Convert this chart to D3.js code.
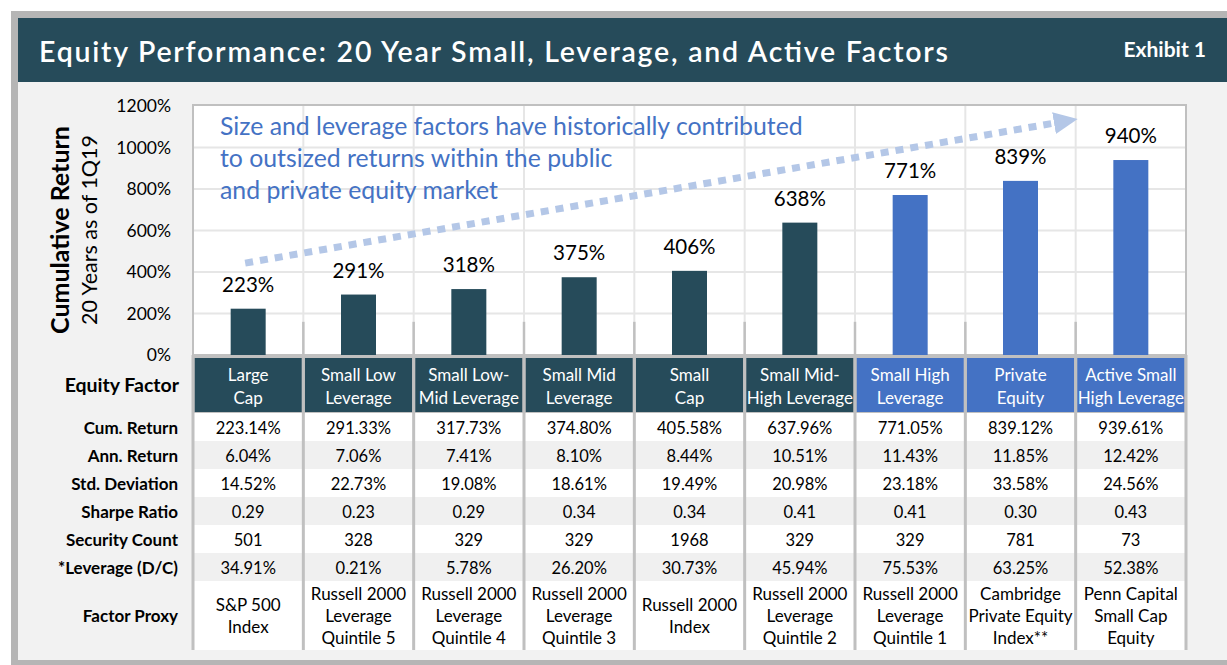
<!DOCTYPE html>
<html lang="en">
<head>
  <meta charset="UTF-8">
  <script src="https://d3js.org/d3.v7.min.js"></script>
  <title>Equity Performance</title>
  <style>
    body { margin: 0; background: #fff; font-family: Lato, "Noto Sans", sans-serif; }
    svg text { font-family: Lato, "Noto Sans", sans-serif; }
  </style>
</head>
<body>
  <svg id="chart" width="1227" height="665"></svg>
  <script>
    // ---- data ----
    const categories = [
      "Large Cap", "Small Low Leverage", "Small Low-Mid Leverage", "Small Mid Leverage",
      "Small Cap", "Small Mid-High Leverage", "Small High Leverage", "Private Equity",
      "Active Small High Leverage"
    ];
    const headerLines = [
      ["Large", "Cap"], ["Small Low", "Leverage"], ["Small Low-", "Mid Leverage"],
      ["Small Mid", "Leverage"], ["Small", "Cap"], ["Small Mid-", "High Leverage"],
      ["Small High", "Leverage"], ["Private", "Equity"], ["Active Small", "High Leverage"]
    ];
    const groups = ["base", "base", "base", "base", "base", "base", "highlight", "highlight", "highlight"];
    const cumReturn = [223.14, 291.33, 317.73, 374.80, 405.58, 637.96, 771.05, 839.12, 939.61];
    const annReturn = ["6.04%", "7.06%", "7.41%", "8.10%", "8.44%", "10.51%", "11.43%", "11.85%", "12.42%"];
    const stdDev = ["14.52%", "22.73%", "19.08%", "18.61%", "19.49%", "20.98%", "23.18%", "33.58%", "24.56%"];
    const sharpe = ["0.29", "0.23", "0.29", "0.34", "0.34", "0.41", "0.41", "0.30", "0.43"];
    const securityCount = ["501", "328", "329", "329", "1968", "329", "329", "781", "73"];
    const leverage = ["34.91%", "0.21%", "5.78%", "26.20%", "30.73%", "45.94%", "75.53%", "63.25%", "52.38%"];
    const factorProxy = [
      ["S&P 500", "Index"], ["Russell 2000", "Leverage", "Quintile 5"],
      ["Russell 2000", "Leverage", "Quintile 4"], ["Russell 2000", "Leverage", "Quintile 3"],
      ["Russell 2000", "Index"], ["Russell 2000", "Leverage", "Quintile 2"],
      ["Russell 2000", "Leverage", "Quintile 1"], ["Cambridge", "Private Equity", "Index**"],
      ["Penn Capital", "Small Cap", "Equity"]
    ];
    const yTicks = [0, 200, 400, 600, 800, 1000, 1200];
    const noteLines = [
      "Size and leverage factors have historically contributed",
      "to outsized returns within the public",
      "and private equity market"
    ];
    // trend arrow endpoints, in category index / value space
    const trendFrom = { cat: 0, value: 443 };
    const trendTo = { cat: 8, value: 1137 };

    const fmtPct = d => d.toFixed(2) + "%";
    const tableRows = [
      { label: "Cum. Return", values: cumReturn.map(fmtPct) },
      { label: "Ann. Return", values: annReturn },
      { label: "Std. Deviation", values: stdDev },
      { label: "Sharpe Ratio", values: sharpe },
      { label: "Security Count", values: securityCount },
      { label: "*Leverage (D/C)", values: leverage }
    ];

    // ---- layout ----
    const W = 1227, H = 665;
    const plot = { left: 193, right: 1186, top: 106, bottom: 355 };
    const headerTop = 358, headerBottom = 413, rowH = 28;
    const proxyTop = headerBottom + rowH * tableRows.length, proxyBottom = 650;

    const teal = "#264b5a", blue = "#4472c4", grid = "#e6e6e6", divider = "#c0c0c0";
    const color = d3.scaleOrdinal().domain(["base", "highlight"]).range([teal, blue]);

    const svg = d3.select("#chart");

    // frame and title bar
    svg.append("rect").attr("x", 11).attr("y", 11).attr("width", W).attr("height", H - 11).attr("fill", "#b5b5b5");
    svg.append("rect").attr("x", 18).attr("y", 18).attr("width", W).attr("height", H - 18 - 5).attr("fill", "#f2f2f2");
    svg.append("rect").attr("x", 18).attr("y", 18).attr("width", W).attr("height", 64).attr("fill", teal);
    svg.append("text").attr("x", 39).attr("y", 62).attr("fill", "#fff")
      .attr("font-size", 28.5).attr("font-weight", 600)
      .style("font-family", "Lato, sans-serif")
      .attr("textLength", 909).attr("lengthAdjust", "spacing")
      .text("Equity Performance: 20 Year Small, Leverage, and Active Factors");
    svg.append("text").attr("x", 1206).attr("y", 57).attr("fill", "#fff").attr("text-anchor", "end")
      .attr("font-size", 21).attr("font-weight", "bold").text("Exhibit 1");

    // scales
    const x = d3.scaleBand().domain(categories).range([plot.left, plot.right]);
    const y = d3.scaleLinear().domain([0, 1200]).range([plot.bottom, plot.top]);
    const bw = x.bandwidth();
    const barW = 35;

    // plot area
    svg.append("rect").attr("x", plot.left).attr("y", plot.top - 1)
      .attr("width", plot.right - plot.left).attr("height", plot.bottom - plot.top + 1)
      .attr("fill", "#fff");

    svg.append("g").selectAll("line").data(yTicks.slice(1, -1)).join("line")
      .attr("x1", plot.left).attr("x2", plot.right)
      .attr("y1", d => y(d)).attr("y2", d => y(d))
      .attr("stroke", grid).attr("stroke-width", 2);

    svg.append("g").selectAll("line").data(categories.slice(1)).join("line")
      .attr("x1", d => x(d)).attr("x2", d => x(d))
      .attr("y1", plot.top).attr("y2", plot.bottom)
      .attr("stroke", grid).attr("stroke-width", 2);

    // category ticks
    svg.append("g").selectAll("line").data(categories.slice(1)).join("line")
      .attr("x1", d => x(d)).attr("x2", d => x(d))
      .attr("y1", y(160)).attr("y2", plot.bottom)
      .attr("stroke", divider).attr("stroke-width", 2.5);

    svg.append("rect").attr("x", plot.left).attr("y", plot.top - 1)
      .attr("width", plot.right - plot.left).attr("height", plot.bottom - plot.top + 1)
      .attr("fill", "none").attr("stroke", divider).attr("stroke-width", 2);

    // y axis
    const yAxis = d3.axisLeft(y).tickValues(yTicks).tickFormat(d => d + "%").tickSize(0).tickPadding(0);
    const ya = svg.append("g").attr("transform", `translate(171,0)`).call(yAxis);
    ya.select(".domain").remove();
    ya.selectAll("text").attr("font-size", 17.5).attr("fill", "#000")
      .style("font-family", "Lato, sans-serif");

    svg.append("text").attr("transform", "translate(69,230) rotate(-90)")
      .attr("text-anchor", "middle").attr("font-size", 25).attr("font-weight", "bold")
      .text("Cumulative Return");
    svg.append("text").attr("transform", "translate(97,230) rotate(-90)")
      .attr("text-anchor", "middle").attr("font-size", 21.5)
      .text("20 Years as of 1Q19");

    // bars
    svg.append("g").selectAll("rect").data(categories).join("rect")
      .attr("x", d => x(d) + bw / 2 - barW / 2)
      .attr("width", barW)
      .attr("y", (d, i) => y(cumReturn[i]))
      .attr("height", (d, i) => plot.bottom - y(cumReturn[i]))
      .attr("fill", (d, i) => color(groups[i]));

    svg.append("g").selectAll("text").data(categories).join("text")
      .attr("x", d => x(d) + bw / 2)
      .attr("y", (d, i) => y(cumReturn[i]) - 17)
      .attr("text-anchor", "middle").attr("font-size", 20.5)
      .text((d, i) => Math.round(cumReturn[i]) + "%");

    // trend arrow
    const defs = svg.append("defs");
    defs.append("marker").attr("id", "arrow").attr("markerUnits", "userSpaceOnUse")
      .attr("viewBox", "0 0 24 22").attr("refX", 24).attr("refY", 11)
      .attr("markerWidth", 24).attr("markerHeight", 22).attr("orient", "auto")
      .append("path").attr("d", "M0,0L24,11L0,22Z").attr("fill", "#b4c7e7");
    const fx = x(categories[trendFrom.cat]) + bw / 2 - 3;
    const tx = x(categories[trendTo.cat]) + 2;
    const ang = Math.atan2(y(trendTo.value) - y(trendFrom.value), tx - fx);
    svg.append("line")
      .attr("x1", fx).attr("y1", y(trendFrom.value))
      .attr("x2", tx - 22 * Math.cos(ang)).attr("y2", y(trendTo.value) - 22 * Math.sin(ang))
      .attr("stroke", "#b4c7e7").attr("stroke-width", 7).attr("stroke-dasharray", "8 7");
    svg.append("line")
      .attr("x1", tx - 24 * Math.cos(ang)).attr("y1", y(trendTo.value) - 24 * Math.sin(ang))
      .attr("x2", tx).attr("y2", y(trendTo.value))
      .attr("stroke", "none").attr("marker-end", "url(#arrow)");

    // note
    svg.append("text").attr("x", 220).attr("y", 135).attr("fill", blue).attr("font-size", 24.8)
      .selectAll("tspan").data(noteLines).join("tspan")
      .attr("x", 220).attr("dy", (d, i) => i === 0 ? 0 : 32).text(d => d);

    // ---- table ----
    const tbl = svg.append("g");
    tableRows.forEach((r, ri) => {
      tbl.append("rect").attr("x", plot.left).attr("y", headerBottom + ri * rowH)
        .attr("width", plot.right - plot.left).attr("height", rowH)
        .attr("fill", ri % 2 === 0 ? "#fff" : "#f0f0f0");
    });
    tbl.append("rect").attr("x", plot.left).attr("y", proxyTop)
      .attr("width", plot.right - plot.left).attr("height", proxyBottom - proxyTop).attr("fill", "#fff");
    tbl.append("rect").attr("x", plot.left).attr("y", plot.bottom)
      .attr("width", plot.right - plot.left).attr("height", headerBottom - plot.bottom).attr("fill", divider);

    // header cells
    tbl.selectAll(".hdr").data(categories).join("rect").attr("class", "hdr")
      .attr("x", d => x(d) + 1.5).attr("width", bw - 3)
      .attr("y", headerTop).attr("height", headerBottom - headerTop - 1)
      .attr("fill", (d, i) => color(groups[i]));
    tbl.selectAll(".hdrtxt").data(categories).join("text").attr("class", "hdrtxt")
      .attr("text-anchor", "middle").attr("fill", "#fff").attr("font-size", 17)
      .each(function (d, i) {
        d3.select(this).selectAll("tspan").data(headerLines[i]).join("tspan")
          .attr("x", x(d) + bw / 2).attr("y", (t, j) => 381 + j * 23).text(t => t);
      });

    // column dividers
    tbl.selectAll(".div").data(categories.concat(["end"])).join("line").attr("class", "div")
      .attr("x1", (d, i) => i < categories.length ? x(d) : plot.right)
      .attr("x2", (d, i) => i < categories.length ? x(d) : plot.right)
      .attr("y1", plot.bottom).attr("y2", proxyBottom)
      .attr("stroke", divider).attr("stroke-width", 3);

    // row labels
    svg.append("text").attr("x", 179).attr("y", 392).attr("text-anchor", "end")
      .attr("font-size", 19.5).attr("font-weight", "bold").text("Equity Factor");
    tableRows.forEach((r, ri) => {
      const cy = headerBottom + ri * rowH + rowH / 2 + 7;
      svg.append("text").attr("x", 178).attr("y", cy).attr("text-anchor", "end")
        .attr("font-size", 17).attr("font-weight", "bold").text(r.label);
      tbl.append("g").selectAll("text").data(r.values).join("text")
        .attr("x", (d, i) => x(categories[i]) + bw / 2).attr("y", cy)
        .attr("text-anchor", "middle").attr("font-size", 16.5).text(d => d);
    });
    svg.append("text").attr("x", 178).attr("y", (proxyTop + proxyBottom) / 2 + 6)
      .attr("text-anchor", "end").attr("font-size", 17).attr("font-weight", "bold").text("Factor Proxy");
    tbl.append("g").selectAll("text").data(factorProxy).join("text")
      .attr("text-anchor", "middle").attr("font-size", 17)
      .each(function (lines, i) {
        const mid = (proxyTop + proxyBottom) / 2 + 6;
        const start = mid - (lines.length - 1) * 22 / 2;
        d3.select(this).selectAll("tspan").data(lines).join("tspan")
          .attr("x", x(categories[i]) + bw / 2).attr("y", (t, j) => start + j * 22).text(t => t);
      });
  </script>
</body>
</html>
